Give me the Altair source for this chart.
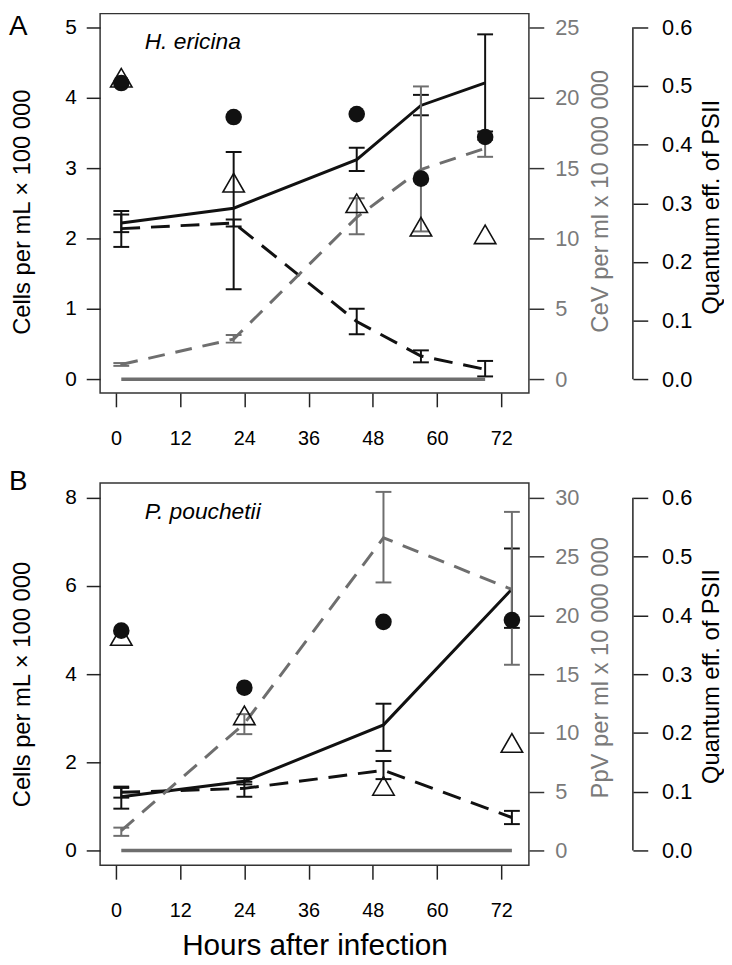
import altair as alt
import pandas as pd

FONT = "Liberation Sans"
BLACK = "#111111"
GRAY = "#6e6e6e"
GRAY_TXT = "#7a7a7a"
TICKC = "#222222"

x_ticks = [0, 12, 24, 36, 48, 60, 72]
q_ticks = [0.0, 0.1, 0.2, 0.3, 0.4, 0.5, 0.6]

# ---------------- Panel A : H. ericina ----------------
hours_a = [1, 22, 45, 57, 69]
ctrl_a = [2.22, 2.43, 3.12, 3.89, 4.21]
ctrl_a_lo = [2.09, 1.28, 2.96, 3.75, 3.52]
ctrl_a_hi = [2.39, 3.23, 3.29, 4.04, 4.90]
inf_a = [2.14, 2.22, 0.82, 0.33, 0.14]
inf_a_lo = [1.88, 2.17, 0.64, 0.24, 0.04]
inf_a_hi = [2.34, 2.27, 1.00, 0.41, 0.26]
vir_a = [1.05, 2.85, 11.5, 14.9, 16.4]
vir_a_lo = [0.95, 2.60, 10.3, 10.5, 15.8]
vir_a_hi = [1.15, 3.15, 12.85, 20.8, 17.0]
vir_ctrl_a = [0, 0, 0, 0, 0]
q_ctrl_a = [0.505, 0.447, 0.452, 0.342, 0.413]
q_inf_a = [0.514, 0.335, 0.300, 0.260, 0.247]
left_ticks_a = [0, 1, 2, 3, 4, 5]
vir_ticks_a = [0, 5, 10, 15, 20, 25]

# ---------------- Panel B : P. pouchetii ----------------
hours_b = [1, 24, 50, 74]
ctrl_b = [1.22, 1.57, 2.85, 5.93]
ctrl_b_lo = [0.95, 1.50, 2.26, 5.05]
ctrl_b_hi = [1.45, 1.64, 3.33, 6.85]
inf_b = [1.32, 1.41, 1.82, 0.75]
inf_b_lo = [1.20, 1.22, 1.62, 0.60]
inf_b_hi = [1.42, 1.56, 2.03, 0.90]
vir_b = [1.7, 10.8, 26.6, 22.2]
vir_b_lo = [1.25, 9.9, 22.8, 15.8]
vir_b_hi = [1.95, 11.6, 30.5, 28.8]
vir_ctrl_b = [0, 0, 0, 0]
q_ctrl_b = [0.374, 0.277, 0.389, 0.392]
q_inf_b = [0.365, 0.230, 0.110, 0.183]
left_ticks_b = [0, 2, 4, 6, 8]
vir_ticks_b = [0, 5, 10, 15, 20, 25, 30]

W = 433
XDOM = [-2.96, 77.18]
Q_OFFSET = 105


def errbars(df, xenc, scale, axis, color):
    rule = alt.Chart(df).mark_rule(color=color, strokeWidth=2).encode(
        x=xenc, y=alt.Y("lo:Q", scale=scale, axis=axis), y2="hi:Q")
    caps = alt.Chart(df).transform_fold(["lo", "hi"], as_=["end", "yv"]).mark_tick(
        orient="horizontal", size=16, thickness=2, color=color, opacity=1).encode(
        x=xenc, y=alt.Y("yv:Q", scale=scale, axis=axis))
    return [rule, caps]


def panel(hours, ctrl, ctrl_lo, ctrl_hi, inf, inf_lo, inf_hi, vir, vir_lo, vir_hi,
          vir_ctrl, q_ctrl, q_inf, left_ticks, vir_ticks, vir_title, letter, species,
          height, pad_frac, t_left, t_vir, t_q, x_title, letter_y):
    ymax = left_ticks[-1]
    vmax = vir_ticks[-1]
    qmax = q_ticks[-1]
    yscale = alt.Scale(domain=[-pad_frac * ymax, ymax * (1 + pad_frac)], nice=False, zero=False)
    vscale = alt.Scale(domain=[-pad_frac * vmax, vmax * (1 + pad_frac)], nice=False, zero=False)
    qscale = alt.Scale(domain=[-pad_frac * qmax, qmax * (1 + pad_frac)], nice=False, zero=False)
    xscale = alt.Scale(domain=XDOM, nice=False, zero=False)

    xaxis = alt.Axis(values=x_ticks, tickSize=14, tickWidth=1.5, tickColor=TICKC,
                     labelPadding=22, labelFontSize=20, labelColor="black", domain=False,
                     grid=False, title=x_title, titleFontSize=30,
                     titleFontWeight="normal", titleColor="black",
                     titleY=66, titleBaseline="top")
    xenc = alt.X("hour:Q", scale=xscale, axis=xaxis)

    yaxis = alt.Axis(orient="left", values=left_ticks, tickSize=14, tickWidth=1.5,
                     tickColor=TICKC, labelPadding=10, labelFontSize=21, labelColor="black",
                     domain=False, grid=False, title="Cells per mL × 100 000",
                     titleFontSize=24, titleFontWeight="normal", titleColor="black",
                     titleX=-78, titleY=t_left, titleAngle=270, titleBaseline="middle",
                     titleAlign="center")
    vaxis = alt.Axis(orient="right", values=vir_ticks, tickSize=15, tickWidth=1.5,
                     tickColor="#333333", labelPadding=11, labelFontSize=22,
                     labelColor=GRAY_TXT, domain=False, grid=False, title=vir_title,
                     titleFontSize=24, titleFontWeight="normal", titleColor=GRAY_TXT,
                     titleX=72, titleY=t_vir, titleAngle=270, titleBaseline="middle",
                     titleAlign="center")
    qaxis = alt.Axis(orient="right", offset=Q_OFFSET, values=q_ticks, format=".1f",
                     tickSize=15, tickWidth=1.5, tickColor=TICKC, labelPadding=14,
                     labelFontSize=22, labelColor="black", domain=False, grid=False,
                     title="Quantum eff. of PSII", titleFontSize=24,
                     titleFontWeight="normal", titleColor="black", titleX=79,
                     titleY=t_q, titleAngle=270, titleBaseline="middle",
                     titleAlign="center")

    df_c = pd.DataFrame({"hour": hours, "val": ctrl, "lo": ctrl_lo, "hi": ctrl_hi})
    df_i = pd.DataFrame({"hour": hours, "val": inf, "lo": inf_lo, "hi": inf_hi})
    df_v = pd.DataFrame({"hour": hours, "val": vir, "lo": vir_lo, "hi": vir_hi})
    df_v0 = pd.DataFrame({"hour": hours, "val": vir_ctrl})
    df_q = pd.DataFrame({"hour": hours, "qc": q_ctrl, "qi": q_inf})

    line_c = alt.Chart(df_c).mark_line(color=BLACK, strokeWidth=3).encode(
        x=xenc, y=alt.Y("val:Q", scale=yscale, axis=yaxis))
    line_i = alt.Chart(df_i).mark_line(color=BLACK, strokeWidth=3, strokeDash=[19, 11]).encode(
        x=xenc, y=alt.Y("val:Q", scale=yscale, axis=yaxis))
    letter_txt = alt.Chart(pd.DataFrame({"t": [letter]})).mark_text(
        align="left", baseline="top", fontSize=28, font=FONT, color="black").encode(
        text="t:N", x=alt.value(-92), y=alt.value(letter_y))
    species_txt = alt.Chart(pd.DataFrame({"t": [species]})).mark_text(
        align="left", baseline="alphabetic", fontSize=23, font=FONT, fontStyle="italic",
        color="black").encode(text="t:N", x=alt.value(45), y=alt.value(36))
    cells = alt.layer(line_c, line_i, *errbars(df_c, xenc, yscale, yaxis, BLACK),
                      *errbars(df_i, xenc, yscale, yaxis, BLACK), letter_txt, species_txt)

    line_v = alt.Chart(df_v).mark_line(color=GRAY, strokeWidth=3, strokeDash=[17, 11]).encode(
        x=xenc, y=alt.Y("val:Q", scale=vscale, axis=vaxis))
    line_v0 = alt.Chart(df_v0).mark_line(color=GRAY, strokeWidth=3.5).encode(
        x=xenc, y=alt.Y("val:Q", scale=vscale, axis=vaxis))
    virus = alt.layer(line_v, line_v0, *errbars(df_v, xenc, vscale, vaxis, GRAY))

    q_rule = alt.Chart(pd.DataFrame({"q0": [q_ticks[0]], "q1": [q_ticks[-1]]})).mark_rule(
        color=TICKC, strokeWidth=1.5).encode(
        x=alt.value(W + Q_OFFSET), y=alt.Y("q0:Q", scale=qscale, axis=qaxis), y2="q1:Q")
    pts_c = alt.Chart(df_q).mark_point(shape="circle", filled=True, size=280, color=BLACK,
                                       opacity=1).encode(
        x=xenc, y=alt.Y("qc:Q", scale=qscale, axis=qaxis))
    pts_i = alt.Chart(df_q).mark_point(shape="triangle-up", filled=False, size=470,
                                       color=BLACK, strokeWidth=1.6, opacity=1).encode(
        x=xenc, y=alt.Y("qi:Q", scale=qscale, axis=qaxis))
    quant = alt.layer(q_rule, pts_c, pts_i)

    return alt.layer(cells, virus, quant).resolve_scale(y="independent").properties(
        width=W, height=height)


panel_a = panel(hours_a, ctrl_a, ctrl_a_lo, ctrl_a_hi, inf_a, inf_a_lo, inf_a_hi,
                vir_a, vir_a_lo, vir_a_hi, vir_ctrl_a, q_ctrl_a, q_inf_a,
                left_ticks_a, vir_ticks_a, "CeV per ml x 10 000 000", "A", "H. ericina",
                383, 14 / 360, 200, 189, 195, None, 0)
panel_b = panel(hours_b, ctrl_b, ctrl_b_lo, ctrl_b_hi, inf_b, inf_b_lo, inf_b_hi,
                vir_b, vir_b_lo, vir_b_hi, vir_ctrl_b, q_ctrl_b, q_inf_b,
                left_ticks_b, vir_ticks_b, "PpV per ml x 10 000 000", "B", "P. pouchetii",
                386, 15 / 359, 203, 186, 195, "Hours after infection", -15)

chart = alt.vconcat(panel_a, panel_b, spacing=18, padding=0).configure_view(
    stroke="#333333", strokeWidth=1.5).configure_axis(labelFont=FONT, titleFont=FONT)

chart.save("out.html", embed_options={"renderer": "svg", "actions": False})
